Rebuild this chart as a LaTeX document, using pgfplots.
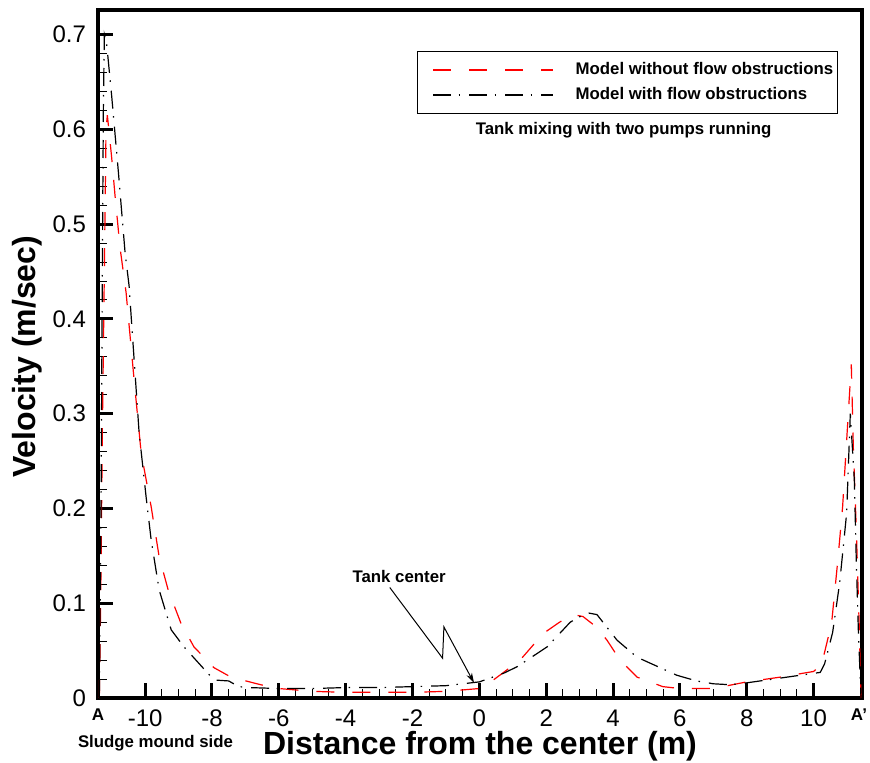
\documentclass[border=0pt]{standalone}
\usepackage{pgfplots}
\pgfplotsset{compat=1.18}
\usepackage{fontspec}
\setmainfont{Liberation Sans}
\usetikzlibrary{arrows.meta}

\pgfplotstableread{
x y
-11.37 0.000
-11.33 0.100
-11.28 0.280
-11.22 0.450
-11.17 0.600
-11.13 0.615
-11.00 0.570
-10.90 0.530
-10.75 0.475
-10.57 0.428
-10.33 0.336
-10.12 0.259
-9.82 0.202
-9.58 0.149
-9.31 0.114
-8.93 0.079
-8.54 0.054
-7.94 0.032
-7.43 0.022
-6.54 0.014
-6.00 0.010
-5.00 0.007
-4.00 0.006
-3.00 0.006
-2.00 0.006
-1.00 0.007
0.00 0.010
0.42 0.019
1.22 0.040
1.91 0.068
2.40 0.080
2.81 0.088
3.10 0.086
3.50 0.075
3.82 0.061
4.21 0.040
4.72 0.022
5.49 0.012
6.00 0.010
7.00 0.010
8.00 0.017
9.00 0.022
10.00 0.028
10.24 0.035
10.54 0.079
10.72 0.143
10.87 0.202
11.01 0.283
11.13 0.352
11.19 0.265
11.28 0.177
11.37 0.072
11.42 0.000
}\withouttable

\pgfplotstableread{
x y
-11.37 0.000
-11.32 0.200
-11.28 0.450
-11.25 0.620
-11.22 0.700
-11.15 0.690
-11.00 0.635
-10.80 0.555
-10.60 0.470
-10.48 0.435
-10.18 0.280
-9.97 0.212
-9.82 0.167
-9.58 0.114
-9.22 0.072
-8.84 0.054
-8.12 0.026
-7.94 0.019
-7.50 0.018
-7.20 0.012
-6.90 0.011
-6.00 0.010
-5.00 0.010
-4.00 0.011
-3.00 0.011
-2.00 0.012
-1.00 0.013
0.00 0.017
0.72 0.026
1.13 0.033
2.03 0.054
2.72 0.080
3.22 0.090
3.52 0.088
4.12 0.061
4.72 0.043
5.91 0.024
6.50 0.018
7.00 0.015
7.50 0.014
8.00 0.016
9.00 0.021
10.00 0.026
10.20 0.027
10.33 0.036
10.57 0.069
10.78 0.121
10.99 0.195
11.10 0.300
11.22 0.230
11.28 0.143
11.34 0.072
11.42 0.000
}\withtable

\begin{document}
\begin{tikzpicture}
\path[use as bounding box] (-49pt,-32.5pt) rectangle (386pt,349pt);
\begin{axis}[
  at={(0pt,0pt)}, anchor=south west,
  scale only axis,
  width=382pt, height=344pt,
  xmin=-11.41, xmax=11.45,
  ymin=0, ymax=0.726,
  clip=false,
  axis line style={line width=1.75pt},
  tick pos=left,
  tick align=inside,
  xtick={-10,-8,-6,-4,-2,0,2,4,6,8,10},
  ytick={0,0.1,0.2,0.3,0.4,0.5,0.6,0.7},
  yticklabels={0,0.1,0.2,0.3,0.4,0.5,0.6,0.7},
  minor x tick num=3,
  minor y tick num=4,
  major tick length=7.5pt,
  minor tick length=4.5pt,
  every major tick/.append style={line width=1.5pt, black},
  every minor tick/.append style={line width=0.5pt, black},
  /pgf/number format/assume math mode=true,
  tick label style={font=\fontsize{12}{14}\selectfont},
  yticklabel style={xshift=-2.5pt},
  xticklabel style={yshift=-2.5pt},
  xlabel={Distance from the center (m)},
  ylabel={Velocity (m/sec)},
  label style={font=\bfseries\fontsize{16}{19}\selectfont},
  xlabel style={at={(axis description cs:0.5,-0.0698)}, anchor=center},
  ylabel style={at={(axis description cs:-0.0929,0.496)}, anchor=center},
  legend style={
    at={(rel axis cs:0.4175,0.9404)}, anchor=north west,
    draw=black, line width=0.5pt,
    font=\bfseries\fontsize{8.4}{10}\selectfont,
    inner xsep=2pt, inner ysep=4pt,
    column sep=11pt, row sep=2pt,
    nodes={inner xsep=0pt, inner ysep=1pt, text height=6.5pt, text depth=2pt},
  },
  legend cell align=left,
  legend image code/.code={\path (0pt,0pt); \draw[#1, line width=0.6pt] (5.5pt,0pt) -- (65.5pt,0pt);},
]
\addplot[red, line width=0.6pt, dash pattern=on 9pt off 9pt] table[x=x,y=y] {\withouttable};
\addlegendentry{Model without flow obstructions}
\addplot[black, line width=0.6pt, dash pattern=on 9pt off 3.75pt on 0.75pt off 4.5pt] table[x=x,y=y] {\withtable};
\addlegendentry{Model with flow obstructions}

\node[font=\bfseries\fontsize{8.4}{10}\selectfont] at (rel axis cs:0.688,0.8256) {Tank mixing with two pumps running};
\node[font=\bfseries\fontsize{8.4}{10}\selectfont] at (axis cs:-2.40,0.128) {Tank center};
\draw[line width=0.5pt, -{Stealth[length=5pt,width=3pt]}] (axis cs:-2.68,0.1166) -- (axis cs:-1.10,0.042) -- (axis cs:-1.06,0.075) -- (axis cs:-0.16,0.016);
\node[font=\bfseries\fontsize{8.5}{10}\selectfont] at ([yshift=-8.5pt]rel axis cs:0,0) {A};
\node[font=\bfseries\fontsize{8.5}{10}\selectfont] at ([xshift=-1.5pt,yshift=-8.5pt]rel axis cs:1,0) {A'};
\node[font=\bfseries\fontsize{8.4}{10}\selectfont] at ([xshift=28.75pt,yshift=-22.5pt]rel axis cs:0,0) {Sludge mound side};
\end{axis}
\end{tikzpicture}
\end{document}
